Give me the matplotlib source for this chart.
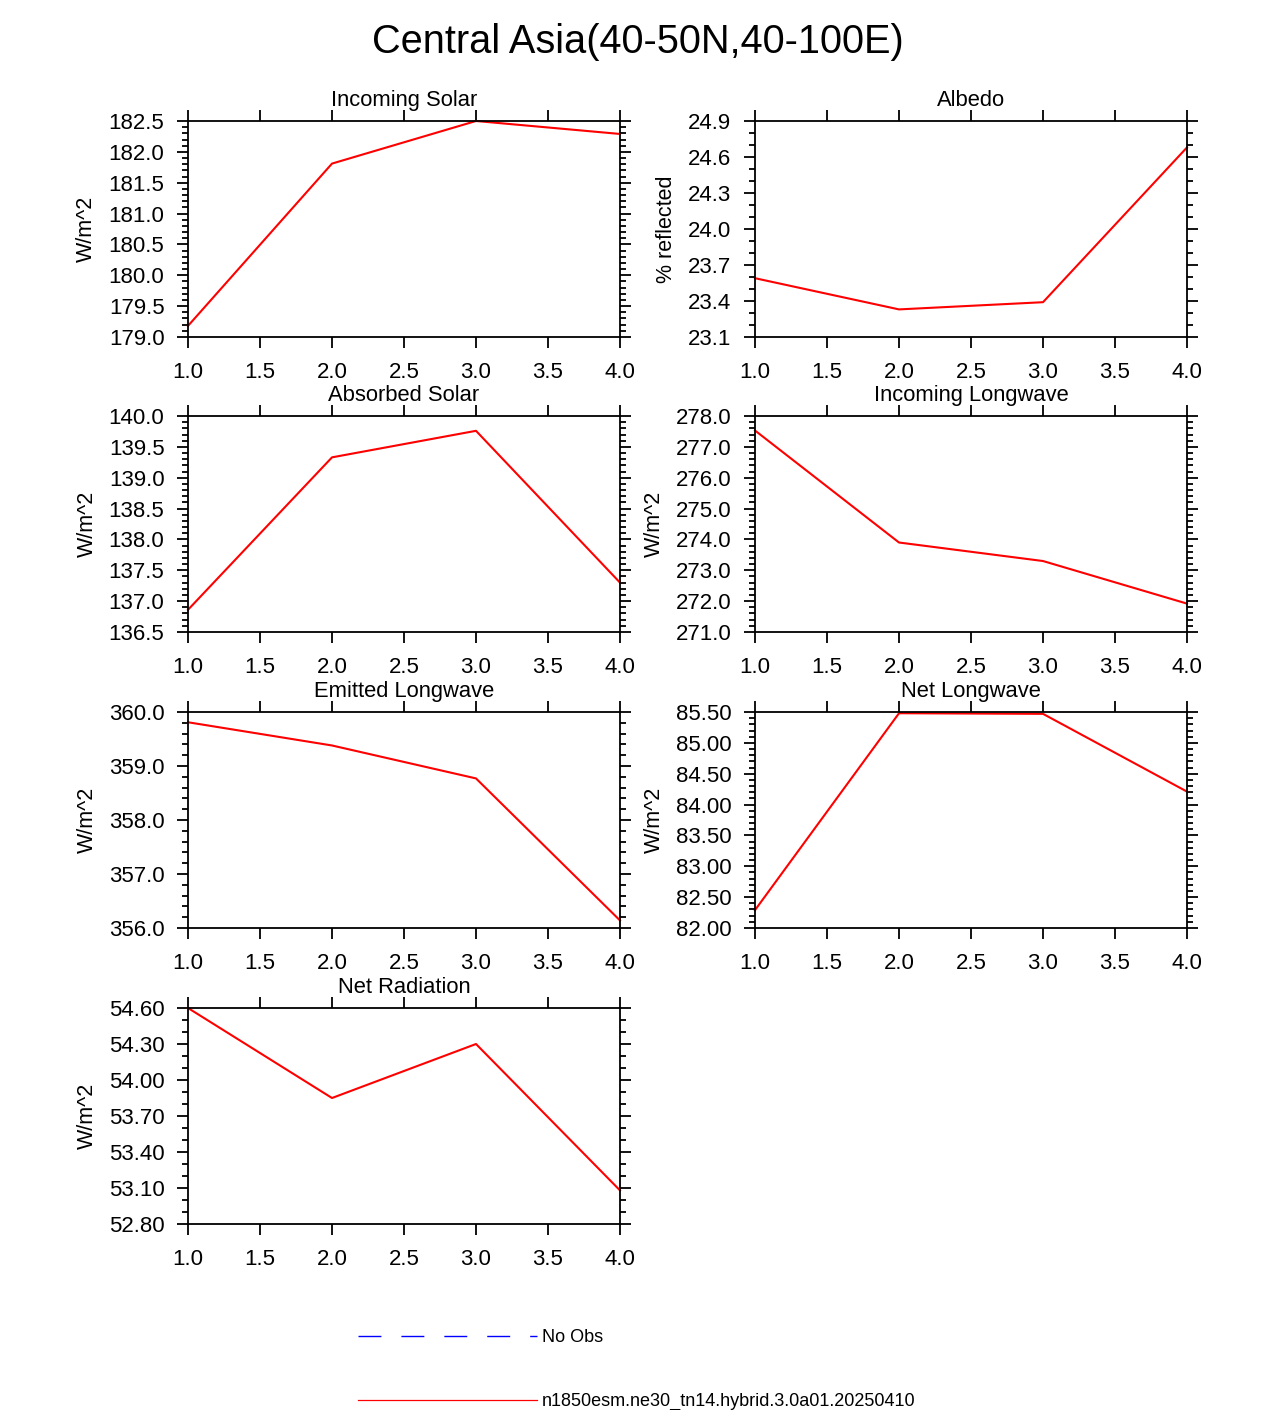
import matplotlib
matplotlib.use("Agg")
import matplotlib.pyplot as plt
from matplotlib.lines import Line2D
from matplotlib.ticker import MultipleLocator, FormatStrFormatter

plt.rcParams['font.family'] = ['Liberation Sans', 'DejaVu Sans']

# x positions (case index)
cases = [1.0, 2.0, 3.0, 4.0]

# values
incoming_solar = [179.18, 181.81, 182.50, 182.29]
albedo = [23.59, 23.33, 23.39, 24.68]
absorbed_solar = [136.86, 139.33, 139.76, 137.30]
incoming_lw = [277.53, 273.90, 273.30, 271.92]
emitted_lw = [359.81, 359.38, 358.77, 356.14]
net_lw = [82.29, 85.48, 85.47, 84.21]
net_radiation = [54.60, 53.85, 54.30, 53.08]

titles = ["Incoming Solar", "Albedo", "Absorbed Solar", "Incoming Longwave",
          "Emitted Longwave", "Net Longwave", "Net Radiation"]
units = ["W/m^2", "% reflected", "W/m^2", "W/m^2", "W/m^2", "W/m^2", "W/m^2"]
series = [incoming_solar, albedo, absorbed_solar, incoming_lw,
          emitted_lw, net_lw, net_radiation]
ylims = [(179.0, 182.5), (23.1, 24.9), (136.5, 140.0), (271.0, 278.0),
         (356.0, 360.0), (82.0, 85.5), (52.8, 54.6)]
major_steps = [0.5, 0.3, 0.5, 1.0, 1.0, 0.5, 0.3]
minor_steps = [0.1, 0.1, 0.1, 0.2, 0.2, 0.1, 0.1]
label_fmts = ['%.1f', '%.1f', '%.1f', '%.1f', '%.1f', '%.2f', '%.2f']

case_name = "n1850esm.ne30_tn14.hybrid.3.0a01.20250410"
obs_name = "No Obs"

W, H = 1275, 1410
fig = plt.figure(figsize=(W / 100, H / 100), dpi=100)

col_left = [188, 755]
row_top = [121, 416, 712, 1008]
pw, ph = 432, 216

fig.text(0.5, 1 - 42 / H, "Central Asia(40-50N,40-100E)", ha='center', va='center',
         fontsize=28.6)

for i in range(7):
    r, c = divmod(i, 2)
    x0 = col_left[c]
    y0 = row_top[r]
    ax = fig.add_axes([x0 / W, 1 - (y0 + ph) / H, pw / W, ph / H])

    ax.plot(cases, series[i], color='red', lw=1.5, clip_on=False)

    ax.set_xlim(1.0, 4.0)
    ax.set_ylim(*ylims[i])
    ax.xaxis.set_major_locator(MultipleLocator(0.5))
    ax.xaxis.set_major_formatter(FormatStrFormatter('%.1f'))
    ax.yaxis.set_major_locator(MultipleLocator(major_steps[i]))
    ax.yaxis.set_minor_locator(MultipleLocator(minor_steps[i]))
    ax.yaxis.set_major_formatter(FormatStrFormatter(label_fmts[i]))

    ax.tick_params(which='both', direction='out', top=True, right=True,
                   labeltop=False, labelright=False, width=1.3, labelsize=16)
    ax.tick_params(axis='x', pad=10)
    ax.tick_params(axis='y', pad=9)
    ax.tick_params(which='major', length=8)
    ax.tick_params(which='minor', length=4)
    for sp in ax.spines.values():
        sp.set_linewidth(1.3)

    ax.set_ylabel(units[i], fontsize=15.5, labelpad=8)
    ax.text(0.5, 1 + 15 / ph, titles[i], transform=ax.transAxes, ha='center',
            va='baseline', fontsize=15.8)

# legend (proxy handles; the obs line has no data in any panel)
obs_handle = Line2D([], [], color='blue', lw=1.0, dashes=(16.5, 14.4))
case_handle = Line2D([], [], color='red', lw=0.9)
fig.legend([obs_handle, case_handle], [obs_name, case_name],
           loc='center left', bbox_to_anchor=(358 / W, 1 - 1369.5 / H),
           frameon=False, fontsize=13, handlelength=9.9, handletextpad=0.3,
           labelspacing=2.6, borderpad=0, borderaxespad=0)

plt.savefig("out.png", dpi=100)
